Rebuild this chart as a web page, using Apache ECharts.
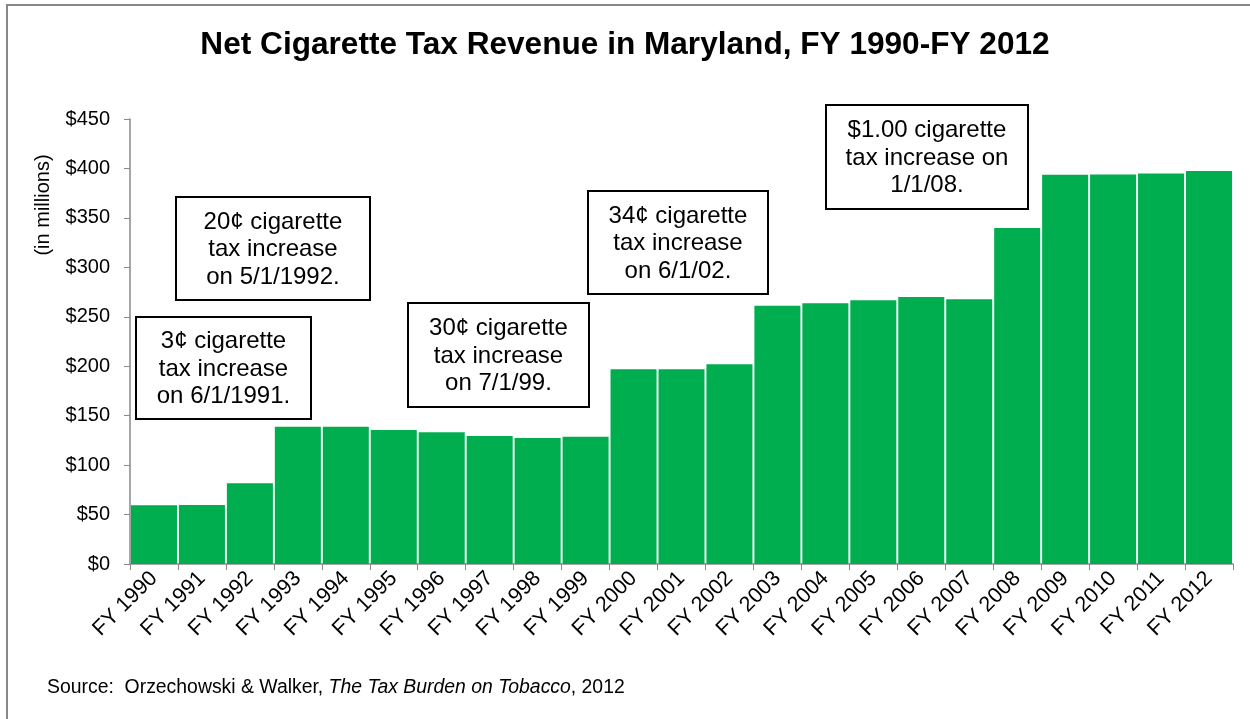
<!DOCTYPE html>
<html>
  <head>
      <meta charset="utf-8">
      <script src="https://cdn.jsdelivr.net/npm/echarts@6/dist/echarts.min.js"></script>
  </head>
<body style="margin:0;background:#fff;">
    <div id="main" style="width: 1250px;height:719px;"></div>
    <script type="text/javascript">
        // data (millions of dollars)
        var years = ['FY 1990', 'FY 1991', 'FY 1992', 'FY 1993', 'FY 1994', 'FY 1995', 'FY 1996',
                     'FY 1997', 'FY 1998', 'FY 1999', 'FY 2000', 'FY 2001', 'FY 2002', 'FY 2003',
                     'FY 2004', 'FY 2005', 'FY 2006', 'FY 2007', 'FY 2008', 'FY 2009', 'FY 2010',
                     'FY 2011', 'FY 2012'];
        var revenue = [59.4, 59.6, 81.6, 138.8, 138.8, 135.5, 133.2, 129.4, 127.4, 128.7, 196.9,
                       196.9, 201.9, 261.2, 263.6, 266.6, 270, 267.6, 339.7, 393.6, 393.9, 394.9, 397.4];
        var notes = [
            ['3¢ cigarette', 'tax increase', 'on 6/1/1991.'],
            ['20¢ cigarette', 'tax increase', 'on 5/1/1992.'],
            ['30¢ cigarette', 'tax increase', 'on 7/1/99.'],
            ['34¢ cigarette', 'tax increase', 'on 6/1/02.'],
            ['$1.00 cigarette', 'tax increase on', '1/1/08.']
        ];
        // note boxes: left, top, width, height
        var noteBoxes = [[136, 317, 175, 102], [176, 197, 194, 103], [408, 303, 181, 104],
                         [588, 191, 180, 103], [826, 105, 202, 104]];

        var font = '"Liberation Sans", Arial, sans-serif';

        var graphics = [
            { type: 'line', shape: { x1: 7, y1: 5, x2: 7, y2: 719 }, style: { stroke: '#888', lineWidth: 2 } },
            { type: 'line', shape: { x1: 6, y1: 5, x2: 1250, y2: 5 }, style: { stroke: '#888', lineWidth: 2 } },
            {
                type: 'text', x: 43, y: 205, rotation: Math.PI / 2,
                style: { text: '(in millions)', font: '20px ' + font, fill: '#000',
                         textAlign: 'center', textVerticalAlign: 'middle' }
            },
            {
                type: 'text', x: 47, y: 688,
                style: {
                    text: '{n|Source:  Orzechowski & Walker, }{i|The Tax Burden on Tobacco}{n|, 2012}',
                    textVerticalAlign: 'middle',
                    rich: {
                        n: { fontSize: 19.4, fontFamily: font, fill: '#000', color: '#000' },
                        i: { fontSize: 19.4, fontFamily: font, fontStyle: 'italic', fill: '#000', color: '#000' }
                    }
                }
            }
        ];
        notes.forEach(function (lines, i) {
            var b = noteBoxes[i];
            graphics.push({
                type: 'rect', z: 10,
                shape: { x: b[0], y: b[1], width: b[2], height: b[3] },
                style: { fill: '#fff', stroke: '#000', lineWidth: 2 }
            });
            graphics.push({
                type: 'text', z: 11,
                x: b[0] + b[2] / 2, y: b[1] + b[3] / 2 + 1,
                style: { text: lines.join('\n'), font: '24px ' + font, fill: '#000',
                         textAlign: 'center', textVerticalAlign: 'middle', lineHeight: 27.5 }
            });
        });

        var myChart = echarts.init(document.getElementById('main'));
        myChart.setOption({
            animation: false,
            title: {
                text: 'Net Cigarette Tax Revenue in Maryland, FY 1990-FY 2012',
                left: 'center',
                top: 24,
                textStyle: { fontFamily: font, fontSize: 31.6, fontWeight: 'bold', color: '#000' }
            },
            grid: { left: 130, right: 17, top: 119, bottom: 155 },
            xAxis: {
                type: 'category',
                data: years,
                axisLine: { lineStyle: { color: '#898989', width: 1.5 } },
                axisTick: { show: true, interval: 0, length: 6, lineStyle: { color: '#898989' } },
                axisLabel: { interval: 0, rotate: 45, margin: 11, fontFamily: font, fontSize: 21.5, color: '#000' }
            },
            yAxis: {
                type: 'value',
                min: 0,
                max: 450,
                interval: 50,
                axisLine: { show: true, lineStyle: { color: '#898989', width: 1.5 } },
                axisTick: { show: true, length: 6, lineStyle: { color: '#898989' } },
                splitLine: { show: false },
                axisLabel: {
                    margin: 20, fontFamily: font, fontSize: 20, color: '#000',
                    formatter: function (v) { return '$' + v; }
                }
            },
            series: [{
                type: 'bar',
                data: revenue,
                barCategoryGap: '4%',
                itemStyle: { color: '#00AE50' }
            }],
            graphic: graphics
        });
    </script>
</body>
</html>
